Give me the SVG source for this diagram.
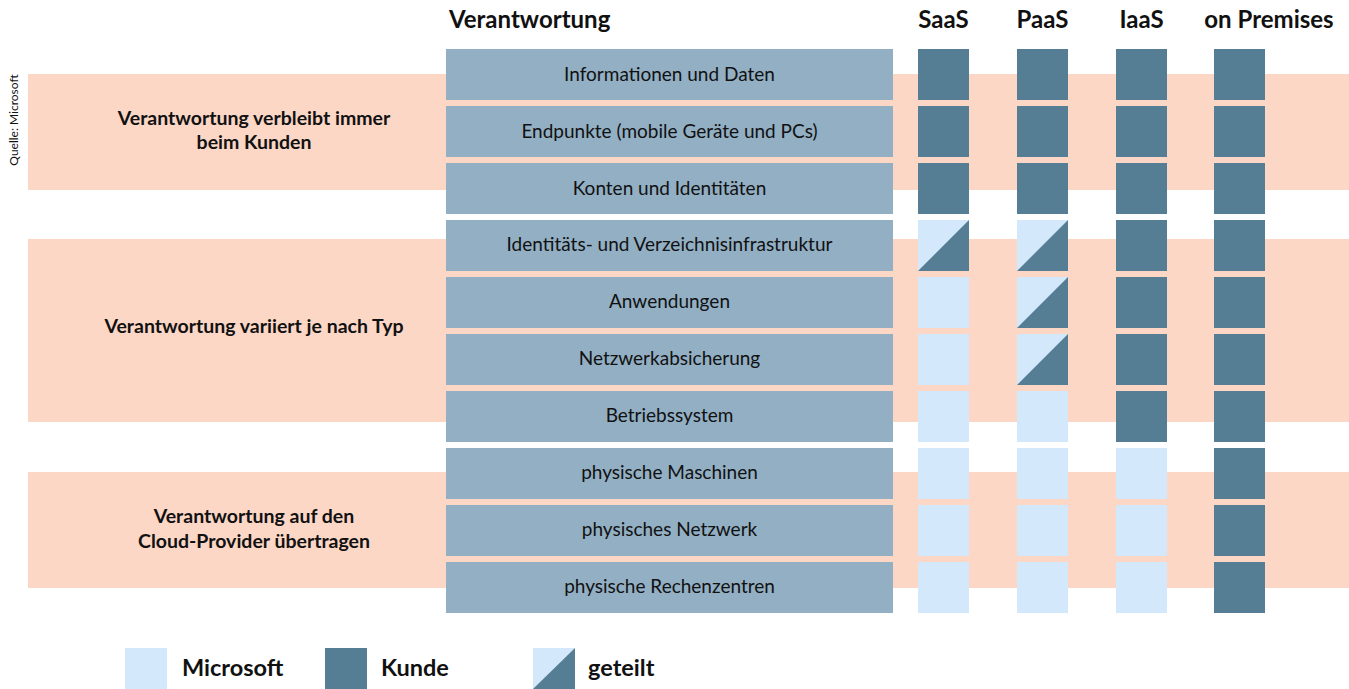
<svg xmlns="http://www.w3.org/2000/svg" width="1349" height="689" viewBox="0 0 1349 689">
<style>
.band{fill:#fcd7c6}
.row{fill:#92afc4}
.k{fill:#557d94}
.m{fill:#d3e8fb}
.hd{font-family:Lato,"Liberation Sans",sans-serif;font-weight:bold;font-size:24px;fill:#111}
.rt{font-family:Lato,"Liberation Sans",sans-serif;font-size:19px;fill:#111;text-anchor:middle}
.bl{font-family:Lato,"Liberation Sans",sans-serif;font-weight:bold;font-size:19.5px;fill:#111;text-anchor:middle}
.lg{font-family:Lato,"Liberation Sans",sans-serif;font-weight:bold;font-size:23.5px;fill:#111}
.src{font-family:Lato,"Liberation Sans",sans-serif;font-size:12px;fill:#111;text-anchor:middle}
</style>
<defs>
<g id="split"><rect width="51" height="51" class="m"/><polygon points="0,51 51,0 51,51" class="k"/></g>
<rect id="dk" width="51" height="51" class="k"/>
<rect id="lt" width="51" height="51" class="m"/>
</defs>
<rect width="1349" height="689" fill="#fff"/>
<text class="src" transform="translate(18,120) rotate(-90)">Quelle: Microsoft</text>
<g id="bands">
<rect class="band" x="28" y="74" width="1321" height="116"/>
<rect class="band" x="28" y="239" width="1321" height="183"/>
<rect class="band" x="28" y="472" width="1321" height="116"/>
</g>
<g id="band-labels">
<text class="bl" x="254" y="125">Verantwortung verbleibt immer</text>
<text class="bl" x="254" y="149">beim Kunden</text>
<text class="bl" x="254" y="333">Verantwortung variiert je nach Typ</text>
<text class="bl" x="254" y="523">Verantwortung auf den</text>
<text class="bl" x="254" y="548">Cloud-Provider übertragen</text>
</g>
<g id="header">
<text class="hd" x="449" y="28">Verantwortung</text>
<text class="hd" x="943.5" y="28" text-anchor="middle">SaaS</text>
<text class="hd" x="1042.5" y="28" text-anchor="middle">PaaS</text>
<text class="hd" x="1141.5" y="28" text-anchor="middle">IaaS</text>
<text class="hd" x="1269" y="28" text-anchor="middle">on Premises</text>
</g>
<g id="rows">
<g id="r1"><rect class="row" x="446" y="49" width="447" height="51"/><text class="rt" x="669.5" y="81">Informationen und Daten</text>
<use href="#dk" x="918" y="49"/><use href="#dk" x="1017" y="49"/><use href="#dk" x="1116" y="49"/><use href="#dk" x="1214" y="49"/></g>
<g id="r2"><rect class="row" x="446" y="106" width="447" height="51"/><text class="rt" x="669.5" y="138">Endpunkte (mobile Geräte und PCs)</text>
<use href="#dk" x="918" y="106"/><use href="#dk" x="1017" y="106"/><use href="#dk" x="1116" y="106"/><use href="#dk" x="1214" y="106"/></g>
<g id="r3"><rect class="row" x="446" y="163" width="447" height="51"/><text class="rt" x="669.5" y="195">Konten und Identitäten</text>
<use href="#dk" x="918" y="163"/><use href="#dk" x="1017" y="163"/><use href="#dk" x="1116" y="163"/><use href="#dk" x="1214" y="163"/></g>
<g id="r4"><rect class="row" x="446" y="220" width="447" height="51"/><text class="rt" x="669.5" y="251">Identitäts- und Verzeichnisinfrastruktur</text>
<use href="#split" x="918" y="220"/><use href="#split" x="1017" y="220"/><use href="#dk" x="1116" y="220"/><use href="#dk" x="1214" y="220"/></g>
<g id="r5"><rect class="row" x="446" y="277" width="447" height="51"/><text class="rt" x="669.5" y="308">Anwendungen</text>
<use href="#lt" x="918" y="277"/><use href="#split" x="1017" y="277"/><use href="#dk" x="1116" y="277"/><use href="#dk" x="1214" y="277"/></g>
<g id="r6"><rect class="row" x="446" y="334" width="447" height="51"/><text class="rt" x="669.5" y="365">Netzwerkabsicherung</text>
<use href="#lt" x="918" y="334"/><use href="#split" x="1017" y="334"/><use href="#dk" x="1116" y="334"/><use href="#dk" x="1214" y="334"/></g>
<g id="r7"><rect class="row" x="446" y="391" width="447" height="51"/><text class="rt" x="669.5" y="422">Betriebssystem</text>
<use href="#lt" x="918" y="391"/><use href="#lt" x="1017" y="391"/><use href="#dk" x="1116" y="391"/><use href="#dk" x="1214" y="391"/></g>
<g id="r8"><rect class="row" x="446" y="448" width="447" height="51"/><text class="rt" x="669.5" y="479">physische Maschinen</text>
<use href="#lt" x="918" y="448"/><use href="#lt" x="1017" y="448"/><use href="#lt" x="1116" y="448"/><use href="#dk" x="1214" y="448"/></g>
<g id="r9"><rect class="row" x="446" y="505" width="447" height="51"/><text class="rt" x="669.5" y="536">physisches Netzwerk</text>
<use href="#lt" x="918" y="505"/><use href="#lt" x="1017" y="505"/><use href="#lt" x="1116" y="505"/><use href="#dk" x="1214" y="505"/></g>
<g id="r10"><rect class="row" x="446" y="562" width="447" height="51"/><text class="rt" x="669.5" y="593">physische Rechenzentren</text>
<use href="#lt" x="918" y="562"/><use href="#lt" x="1017" y="562"/><use href="#lt" x="1116" y="562"/><use href="#dk" x="1214" y="562"/></g>
</g>
<g id="legend">
<rect class="m" x="125" y="648" width="42" height="41"/><text class="lg" x="182" y="676">Microsoft</text>
<rect class="k" x="325" y="648" width="42" height="41"/><text class="lg" x="381" y="676">Kunde</text>
<rect class="m" x="533" y="648" width="42" height="41"/><polygon class="k" points="533,689 575,648 575,689"/><text class="lg" x="588" y="676">geteilt</text>
</g>
<g id="connectors"/>
</svg>
